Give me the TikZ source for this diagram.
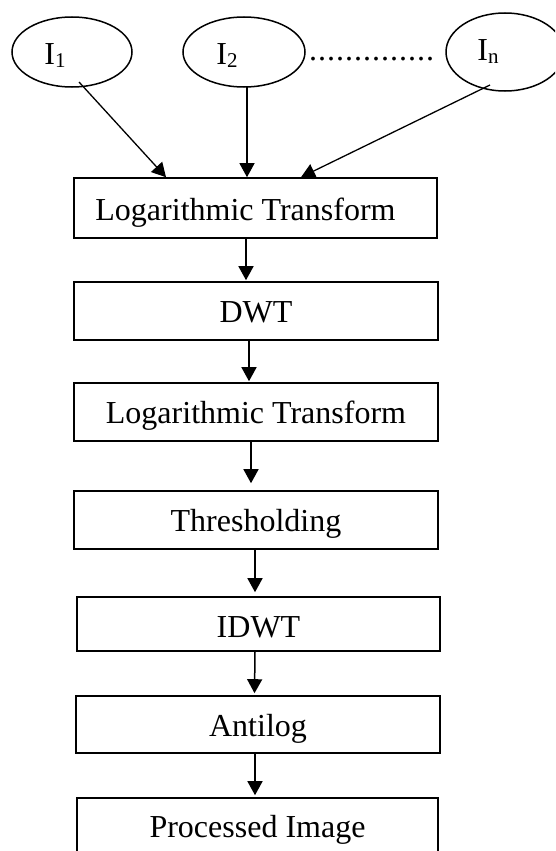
\documentclass[tikz,border=0pt]{standalone}
\usepackage{fontspec}
\setmainfont{Liberation Serif}
\usetikzlibrary{arrows.meta,shapes.geometric}
% lowered, smaller index after a letter
\newcommand\lowidx[1]{\raisebox{-3pt}{\fontsize{21}{21}\selectfont #1}}
\newcommand\dotrow{\foreach \k in {1,...,14}{.\kern1pt}}
\begin{document}
\begin{tikzpicture}[x=1pt,y=-1pt,
  font=\fontsize{32}{38}\selectfont,
  stage/.style={draw,line width=1.6pt,rectangle,inner sep=0pt,
    minimum width=364pt,minimum height=58pt,text depth=0pt},
  src/.style={draw,line width=1.5pt,ellipse,inner sep=0pt,text depth=0pt},
  flow/.style={line width=1.5pt,-{Triangle[length=14pt,width=15pt]}},
  feed/.style={line width=1.3pt,-{Triangle[length=14pt,width=15pt]}}]
\useasboundingbox (0,0) rectangle (555,851);
\clip (0,0) rectangle (555,851);

% input images
\node[src,minimum width=120pt,minimum height=70pt,text height=24pt] (e1) at (72,52) {I\lowidx{1}\kern34pt};
\node[src,minimum width=122pt,minimum height=70pt,text height=24pt] (e2) at (244,52) {I\lowidx{2}\kern34pt};
\node[src,minimum width=118pt,minimum height=78pt,text height=16pt] (en) at (505,52) {I\lowidx{n}\kern34pt};
\node[anchor=base west,inner sep=0pt] (dots) at (309,61) {\dotrow};

% processing chain
\node[stage,minimum width=363pt,minimum height=60pt,text height=24pt] (b1) at (255.5,208) {Logarithmic Transform\kern20pt};
\node[stage,text height=23pt] (b2) at (256,311) {DWT};
\node[stage,text height=22pt] (b3) at (256,412) {Logarithmic Transform};
\node[stage,text height=22pt] (b4) at (256,520) {Thresholding};
\node[stage,minimum width=363pt,minimum height=54pt,text height=26pt] (b5) at (258.5,624) {IDWT};
\node[stage,minimum height=57pt,text height=23pt] (b6) at (258,724.5) {Antilog};
\node[stage,minimum width=361pt,minimum height=62pt,text height=16pt] (b7) at (257.5,829) {Processed Image};

% inputs into the first stage
\draw[feed] ([shift={(7,30)}]e1.center) -- ([xshift=-89.5pt]b1.north);
\draw[feed] ([shift={(3,35)}]e2.center) -- ([xshift=-8.5pt]b1.north);
\draw[feed] ([shift={(-15,33)}]en.center) -- ([xshift=45.5pt]b1.north);

% stage to stage
\draw[flow] ([xshift=-9.5pt]b1.south) -- ([xshift=-10pt,yshift=1pt]b2.north);
\draw[flow] ([xshift=-7pt]b2.south) -- ([xshift=-7pt,yshift=1pt]b3.north);
\draw[flow] ([xshift=-5pt]b3.south) -- ([xshift=-5pt,yshift=7pt]b4.north);
\draw[flow] ([xshift=-1pt]b4.south) -- ([xshift=-3.5pt,yshift=4pt]b5.north);
\draw[flow] ([xshift=-3.5pt]b5.south) -- ([xshift=-3.5pt,yshift=2pt]b6.north);
\draw[flow] ([xshift=-3pt]b6.south) -- ([xshift=-2.5pt,yshift=2pt]b7.north);
\end{tikzpicture}
\end{document}
